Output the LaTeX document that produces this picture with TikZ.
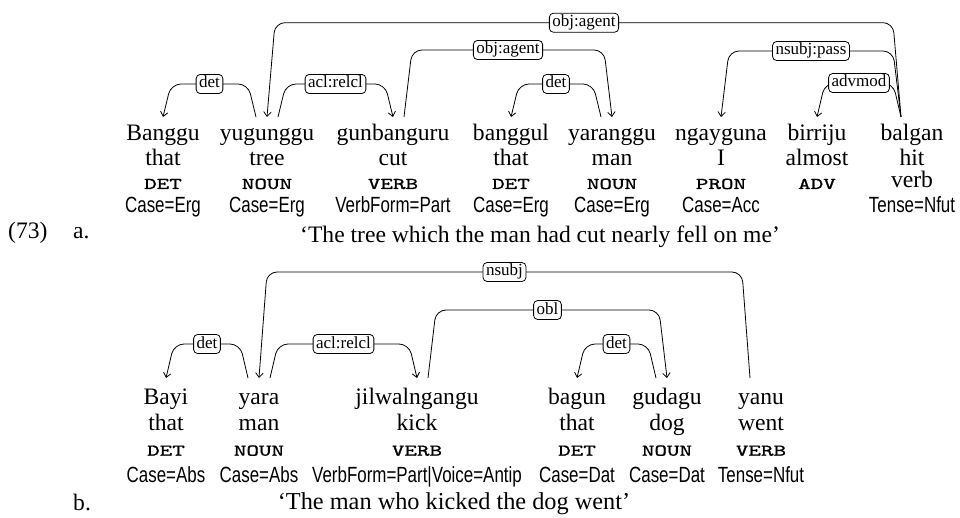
\documentclass[tikz,border=0pt]{standalone}
\usepackage{fontspec}
\setmainfont{Liberation Serif}
\newfontfamily\featfont{Liberation Sans}[FakeStretch=0.77]
\newfontfamily\posfont{lmmono10-regular.otf}[FakeStretch=1.45,FakeBold=1.2]
\usetikzlibrary{arrows.meta,calc}
\tikzset{
  wd/.style={anchor=base, inner sep=0pt, font=\fontsize{23.6}{28}\selectfont},
  postag/.style={anchor=base, inner sep=0pt, font=\posfont\fontsize{16.5}{20}\selectfont},
  feat/.style={anchor=base, inner sep=0pt, font=\featfont\fontsize{22}{26}\selectfont},
  transl/.style={anchor=base, inner sep=0pt, font=\fontsize{24.3}{29}\selectfont},
  lab/.style={draw, fill=white, rounded corners=4pt, line width=0.8pt, inner xsep=3pt, inner ysep=1.5pt,
    text height=12pt, text depth=4pt, font=\fontsize{17}{20}\selectfont},
  dep/.style={line width=0.8pt, rounded corners=10pt, -{Straight Barb[length=4.5pt,width=7.5pt]}},
}
\newcommand\depedge[6]{%
  \draw[dep] let \p1=(#1.center), \p2=(#3.center) in
    ({\x1+(#2)*11pt}, {-#4pt}) -- ({\x1+(#2)*19pt}, {-#5pt}) --
    node[lab]{#6} ({\x2-(#2)*8pt}, {-#5pt}) -- ({\x2}, {-#4pt});}
\begin{document}
\begin{tikzpicture}[x=1pt, y=-1pt]
\useasboundingbox (0,0) rectangle (960,518);
% ---- sentence a ----
\foreach \n/\x/\w/\g in {1/163/Banggu/that, 2/267/yugunggu/tree, 3/393/gunbanguru/cut,
  4/511/banggul/that, 5/612/yaranggu/man, 6/721/ngayguna/I, 7/817/birriju/almost, 8/912/balgan/hit}{
  \node[wd] (w\n) at (\x,140.7) {\w};
  \node[wd] (g\n) at (\x,165.5) {\g};
}
\foreach \n/\x/\p in {1/163/DET, 2/267/NOUN, 3/393/VERB, 4/511/DET, 5/612/NOUN, 6/721/PRON, 7/817/ADV}{
  \node[postag] (p\n) at (\x,189) {\p};
}
\node[wd] (p8) at (912,188) {verb};
\foreach \n/\x/\f in {1/163/Case=Erg, 2/267/Case=Erg, 3/393/VerbForm=Part, 4/511/Case=Erg,
  5/612/Case=Erg, 6/721/Case=Acc, 8/912/Tense=Nfut}{
  \node[feat] (f\n) at (\x,212.5) {\f};
}
\node[wd, anchor=base west] (ex) at (8,239) {(73)};
\node[wd, anchor=base west] (exa) at (73,239) {a.};
\node[wd] (tra) at (540,243) {‘The tree which the man had cut nearly fell on me’};
\depedge{w2}{-1}{w1}{117}{84}{det}
\depedge{w2}{1}{w3}{117}{84}{acl:relcl}
\depedge{w3}{1}{w5}{117}{50}{obj:agent}
\depedge{w5}{-1}{w4}{117}{84}{det}
\depedge{w8}{-1}{w2}{117}{22.7}{obj:agent}
\depedge{w8}{-1}{w6}{117}{51}{nsubj:pass}
\depedge{w8}{-1}{w7}{117}{83}{advmod}
% ---- sentence b ----
\foreach \n/\x/\w/\g/\p/\f in {1/166/Bayi/that/DET/Case=Abs, 2/259/yara/man/NOUN/Case=Abs,
  3/417/jilwalngangu/kick/VERB/VerbForm=Part|Voice=Antip, 4/577/bagun/that/DET/Case=Dat,
  5/667/gudagu/dog/NOUN/Case=Dat, 6/761/yanu/went/VERB/Tense=Nfut}{
  \node[wd] (b\n) at (\x,404) {\w};
  \node[wd] (c\n) at (\x,430) {\g};
  \node[postag] (q\n) at (\x,455.7) {\p};
  \node[feat] (h\n) at (\x,482) {\f};
}
\node[wd, anchor=base west] (exb) at (73,510) {b.};
\node[transl] (trb) at (454,509.5) {‘The man who kicked the dog went’};
\depedge{b2}{-1}{b1}{378}{344}{det}
\depedge{b2}{1}{b3}{378}{344}{acl:relcl}
\depedge{b6}{-1}{b2}{378}{272}{nsubj}
\depedge{b3}{1}{b5}{378}{310}{obl}
\depedge{b5}{-1}{b4}{378}{344}{det}
\end{tikzpicture}
\end{document}
